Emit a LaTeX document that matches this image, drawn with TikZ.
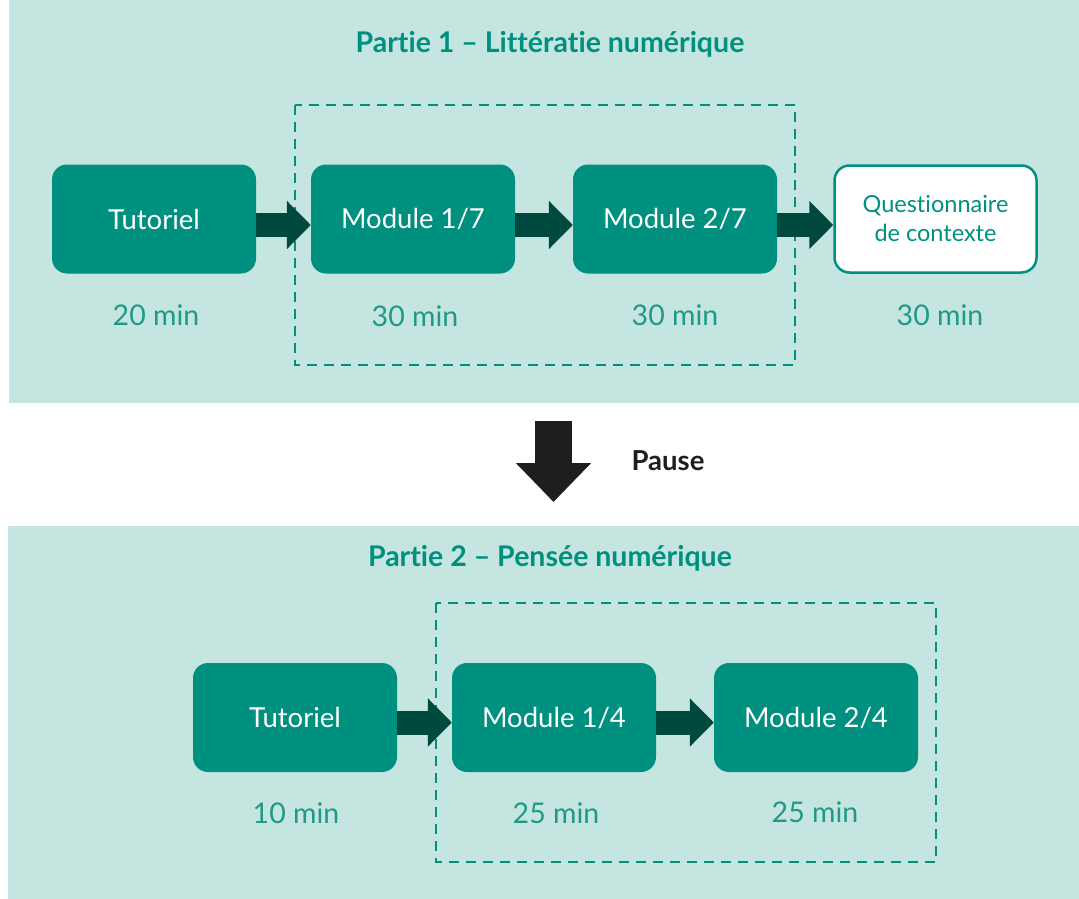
\documentclass[tikz,border=0pt]{standalone}
\usepackage{fontspec}
\setmainfont[Ligatures=NoCommon]{Lato}
\usetikzlibrary{arrows.meta}
\definecolor{panel}{HTML}{C5E5E1}
\definecolor{teal}{HTML}{00907F}
\definecolor{darkarrow}{HTML}{00493F}
\definecolor{durtxt}{HTML}{1F9A89}
\definecolor{pausecol}{HTML}{1E1E1E}
\begin{document}
\begin{tikzpicture}[x=1pt,y=-1pt,
  panelbox/.style={fill=panel, draw=none},
  stepbox/.style={fill=teal, draw=none, rounded corners=15pt, minimum width=204pt, minimum height=109pt, inner sep=0pt, text=white, font=\fontsize{27.5}{31}\selectfont},
  whitebox/.style={fill=white, draw=teal, line width=2.5pt, rounded corners=15pt, minimum width=202pt, minimum height=107pt, inner sep=0pt, text=teal, align=center, font=\fontsize{23.5}{29}\selectfont},
  durlabel/.style={text=durtxt, font=\fontsize{28.5}{32}\selectfont, inner sep=0pt},
  titlelabel/.style={text=teal, font=\fontsize{28.5}{32}\selectfont\bfseries, inner sep=0pt},
  grp/.style={draw=teal, line width=2pt, dash pattern=on 10pt off 7pt},
  flow/.style={draw=darkarrow, line width=24pt, -{Triangle[width=47pt,length=24pt]}},
  bigarrow/.style={draw=pausecol, line width=37pt, -{Triangle[width=73pt,length=39pt]}}
]
\useasboundingbox (0,0) rectangle (1079,899);
% panels
\fill[panelbox] (9,0) rectangle (1079,403);
\fill[panelbox] (8,526) rectangle (1079,899);

% ---- Part 1
\node[titlelabel] (t1) at (550,44) {Partie 1 – Littératie numérique};
\draw[grp] (295,105) rectangle (795,365);
\node[stepbox] (a1) at (154,219) {Tutoriel};
\node[stepbox] (a2) at (413,219) {Module 1/7};
\node[stepbox] (a3) at (675,219) {Module 2/7};
\node[whitebox] (a4) at (935.5,219) {Questionnaire\\de contexte};
\draw[flow] ([yshift=-6pt]a1.east) -- ([yshift=-6pt]a2.west);
\draw[flow] ([yshift=-6pt]a2.east) -- ([yshift=-6pt]a3.west);
\draw[flow] ([yshift=-6pt]a3.east) -- ([yshift=-6pt]a4.west);
\node[durlabel] (d1) at (156,315) {20 min};
\node[durlabel] (d2) at (415,316) {30 min};
\node[durlabel] (d3) at (675,315) {30 min};
\node[durlabel] (d4) at (940,315) {30 min};

% ---- Pause
\coordinate (p0) at (553.5,421);
\coordinate (p1) at (553.5,502);
\draw[bigarrow] (p0) -- (p1);
\node[text=pausecol, font=\fontsize{27.5}{30}\selectfont\bfseries, inner sep=0pt] (pause) at (668,461) {Pause};

% ---- Part 2
\node[titlelabel] (t2) at (550,558) {Partie 2 – Pensée numérique};
\draw[grp] (436,603) rectangle (936,862);
\node[stepbox] (b1) at (295,717.5) {Tutoriel};
\node[stepbox] (b2) at (554,717.5) {Module 1/4};
\node[stepbox] (b3) at (816,717.5) {Module 2/4};
\draw[flow] ([yshift=-5pt]b1.east) -- ([yshift=-5pt]b2.west);
\draw[flow] ([yshift=-5pt]b2.east) -- ([yshift=-5pt]b3.west);
\node[durlabel] (e1) at (296,813) {10 min};
\node[durlabel] (e2) at (556,813) {25 min};
\node[durlabel] (e3) at (815,812) {25 min};
\end{tikzpicture}
\end{document}
